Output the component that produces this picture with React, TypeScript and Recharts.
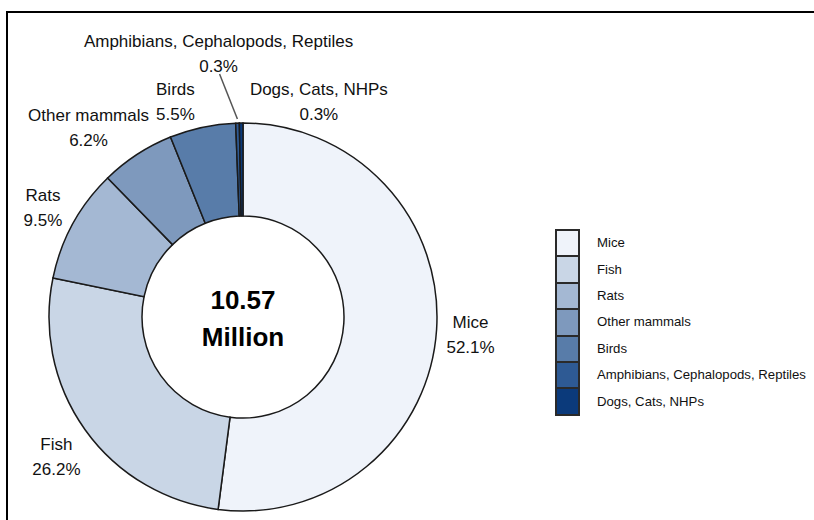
import React from 'react';
import { PieChart, Pie, Cell, Legend } from 'recharts';

const categories = [
  'Mice',
  'Fish',
  'Rats',
  'Other mammals',
  'Birds',
  'Amphibians, Cephalopods, Reptiles',
  'Dogs, Cats, NHPs',
];
const shares = [52.1, 26.2, 9.5, 6.2, 5.5, 0.3, 0.3];
const colors = ['#eff3fa', '#c9d6e6', '#a4b8d3', '#7e99bd', '#587ca9', '#2e5a94', '#0b3a7b'];
const totalLabel = ['10.57', 'Million'];
// label nudges (px) relative to radial label position
const labelNudges = [
  [0, 3],
  [-1, 8],
  [0, 0],
  [-30, 2],
  [-20, 8],
  [-18, -35],
  [78, 13],
];

const data = categories.map((name, i) => ({ name, value: shares[i] }));

const RAD = Math.PI / 180;
const FONT = '"Liberation Sans", Arial, Helvetica, sans-serif';

function renderLabel(props: any) {
  const { cx, cy, midAngle, outerRadius, index } = props;
  const r = outerRadius + 34;
  const bx = cx + r * Math.cos(-midAngle * RAD);
  const by = cy + r * Math.sin(-midAngle * RAD);
  const [dx, dy] = labelNudges[index];
  const x = bx + dx;
  const y = by + dy;
  const lx = cx + (outerRadius + 4) * Math.cos(-midAngle * RAD);
  const ly = cy + (outerRadius + 4) * Math.sin(-midAngle * RAD);
  return (
    <g key={`lbl-${index}`}>
      {index === 5 && (
        <line x1={x + 1} y1={y + 20} x2={lx} y2={ly} stroke="#555" strokeWidth={1.5} />
      )}
      <text x={x} y={y - 12.5} textAnchor="middle" dominantBaseline="central" fontSize={17} fill="#111" fontFamily={FONT}>
        {categories[index]}
      </text>
      <text x={x} y={y + 12.5} textAnchor="middle" dominantBaseline="central" fontSize={17} fill="#111" fontFamily={FONT}>
        {`${shares[index]}%`}
      </text>
      {index === 0 && (
        <g>
          <text x={cx} y={cy - 17} textAnchor="middle" dominantBaseline="central" fontSize={26} fontWeight="bold" fill="#000" fontFamily={FONT}>
            {totalLabel[0]}
          </text>
          <text x={cx} y={cy + 20} textAnchor="middle" dominantBaseline="central" fontSize={26} fontWeight="bold" fill="#000" fontFamily={FONT}>
            {totalLabel[1]}
          </text>
        </g>
      )}
    </g>
  );
}

function LegendContent() {
  return (
    <div style={{ fontFamily: FONT }}>
      {categories.map((c, i) => (
        <div key={c} style={{ display: 'flex', alignItems: 'center', height: 28.4, marginTop: i ? -2 : 0 }}>
          <div
            style={{
              width: 25,
              height: 28.4,
              boxSizing: 'border-box',
              background: colors[i],
              border: '2px solid #2a2a2a',
              flexShrink: 0,
            }}
          />
          <span style={{ marginLeft: 17, fontSize: 13.2, color: '#111', lineHeight: '28px', whiteSpace: 'nowrap' }}>{c}</span>
        </div>
      ))}
    </div>
  );
}

export default function App() {
  return (
    <div style={{ position: 'absolute', left: 0, top: 0, width: 814, height: 520, background: '#fff', overflow: 'hidden' }}>
      <div style={{ position: 'absolute', left: 6, top: 11, width: 808, height: 2, background: '#000' }} />
      <div style={{ position: 'absolute', left: 6, top: 11, width: 2, height: 509, background: '#000' }} />
      <div style={{ position: 'absolute', left: 0, top: 0 }}>
        <PieChart width={814} height={520} margin={{ top: 0, right: 0, bottom: 0, left: 0 }}>
          <Pie
            data={data}
            dataKey="value"
            nameKey="name"
            cx={243}
            cy={317}
            innerRadius={101}
            outerRadius={194}
            startAngle={90}
            endAngle={-270}
            stroke="#1a1a1a"
            strokeWidth={1.5}
            label={renderLabel}
            labelLine={false}
            isAnimationActive={false}
          >
            {data.map((d, i) => (
              <Cell key={d.name} fill={colors[i]} />
            ))}
          </Pie>
          <Legend
            layout="vertical"
            align="right"
            verticalAlign="middle"
            content={<LegendContent />}
            wrapperStyle={{ left: 555, top: 229, width: 259 }}
          />
        </PieChart>
      </div>
    </div>
  );
}
